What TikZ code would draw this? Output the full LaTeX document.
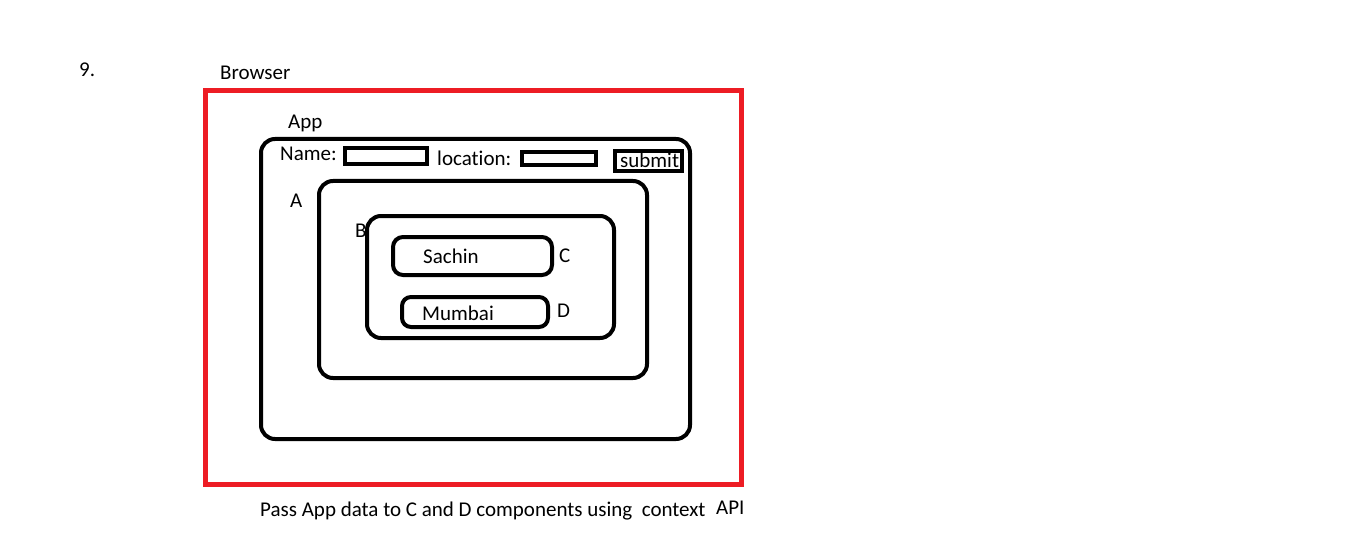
\documentclass[tikz,border=0pt]{standalone}
\usepackage{fontspec}
\setmainfont{Carlito}[Ligatures=NoCommon]
\definecolor{paintred}{RGB}{237,28,36}
\begin{document}
\begin{tikzpicture}[x=1pt,y=-1pt,font=\fontsize{21}{25}\selectfont,
    every node/.style={anchor=west,inner sep=0pt},
    box/.style={line width=4pt,rounded corners=14pt},
    field/.style={line width=4pt}]
\useasboundingbox (0,0) rectangle (1348,548);
\node (num) at (79,70) {9.};
% browser
\node (browser) at (220,73) {Browser};
\draw[paintred,line width=5pt] (205,91) rectangle (741,484);
% app
\node (app) at (288,123) {App};
\draw[box] (261,139) rectangle (690,439);
\node (name) at (280,154) {Name:};
\draw[field] (345,148) rectangle (427,164);
\node (loc) at (437,158) {location:};
\draw[field] (522,152) rectangle (596,165);
\draw[field] (615,151) rectangle (682,171);
\node (submit) at (620,160) {submit};
% A
\node (a) at (290,201) {A};
\draw[box] (319,181) rectangle (647,378);
% B
\node (b) at (355,231) {B};
\draw[box] (367,216) rectangle (614,338);
% C and D
\draw[line width=4pt,rounded corners=10pt] (393,237) rectangle (552,275);
\node (sachin) at (423,256) {Sachin};
\node (c) at (559,256) {C};
\draw[line width=4pt,rounded corners=9pt] (402,297) rectangle (548,327);
\node (mumbai) at (422,313) {Mumbai};
\node (d) at (557,311) {D};
% caption
\node (cap) at (260,511) {Pass App data to C and D components using\ \ context};
\node (api) at (716,508) {API};
\end{tikzpicture}
\end{document}
